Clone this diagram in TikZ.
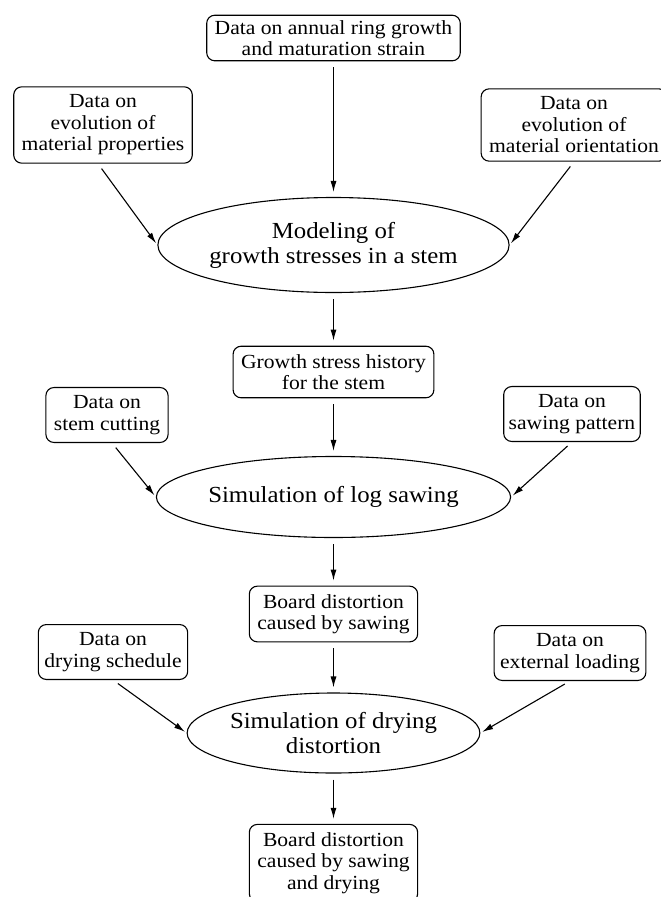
\documentclass[tikz,border=0pt]{standalone}
\usepackage{fontspec}
\setmainfont{Liberation Serif}[FakeStretch=1.08]
\usetikzlibrary{arrows.meta,shapes.geometric}
\begin{document}
\begin{tikzpicture}[x=1pt,y=-1pt,>={Latex[length=11pt,width=6pt]}]
        \tikzstyle{data}=[rectangle,rounded corners=8pt,draw=black,line width=1.1pt,align=center,font=\fontsize{20}{21.5}\selectfont,inner xsep=8pt,inner ysep=8pt]
        \tikzstyle{model}=[ellipse,draw=black,line width=1.1pt,align=center,inner sep=0pt,font=\fontsize{23}{25}\selectfont]
        \tikzstyle{edge}=[draw,->,line width=1.1pt,shorten <=6pt,shorten >=5pt]
        \useasboundingbox (0,0) rectangle (661,897);
       \begin{scope}
         % growth stresses
         \node [data,inner ysep=5pt] (ring) at (333.5,38) {Data on annual ring growth\\and maturation strain};
         \node [data] (prop) at (103,125) {Data on\\evolution of\\material properties};
         \node [data] (orient) at (574,125) {Data on\\evolution of\\material orientation};
         \node [model,minimum width=300pt,minimum height=95pt] (stem) at (333.5,245) {Modeling of\\growth stresses in a stem};
         \node [data] (history) at (333.5,372) {Growth stress history\\for the stem};
         % log sawing
         \node [data] (cutting) at (107,415) {Data on\\stem cutting};
         \node [data,inner xsep=5pt] (pattern) at (572,414) {Data on\\sawing pattern};
         \node [model,minimum width=276pt,minimum height=81pt] (sawing) at (333.5,497) {Simulation of log sawing};
         \node [data] (board) at (333.5,614) {Board distortion\\caused by sawing};
         % drying
         \node [data,inner xsep=6pt] (schedule) at (113,652) {Data on\\drying schedule};
         \node [data,inner xsep=6pt] (loading) at (570,653) {Data on\\external loading};
         \node [model,minimum width=256pt,minimum height=80pt] (drying) at (333.5,733) {Simulation of drying\\distortion};
         \node [data] (final) at (333.5,863) {Board distortion\\caused by sawing\\and drying};
         \path (ring) edge [edge] (stem);
         \path ([xshift=-5pt]prop.south) edge [edge,shorten >=2pt] (stem.west);
         \path (orient.south) edge [edge,shorten >=2pt] (stem.east);
         \path (stem) edge [edge] (history);
         \path (history) edge [edge] (sawing);
         \path ([xshift=5pt]cutting.south) edge [edge,shorten >=2pt] (sawing.west);
         \path (pattern.south) edge [edge,shorten >=2pt] (sawing.east);
         \path (sawing) edge [edge] (board);
         \path (board) edge [edge] (drying);
         \path (schedule.south) edge [edge,shorten >=2pt] (drying.west);
         \path (loading.south) edge [edge,shorten >=2pt] (drying.east);
         \path (drying) edge [edge] (final);
        \end{scope}
      \end{tikzpicture}
\end{document}
